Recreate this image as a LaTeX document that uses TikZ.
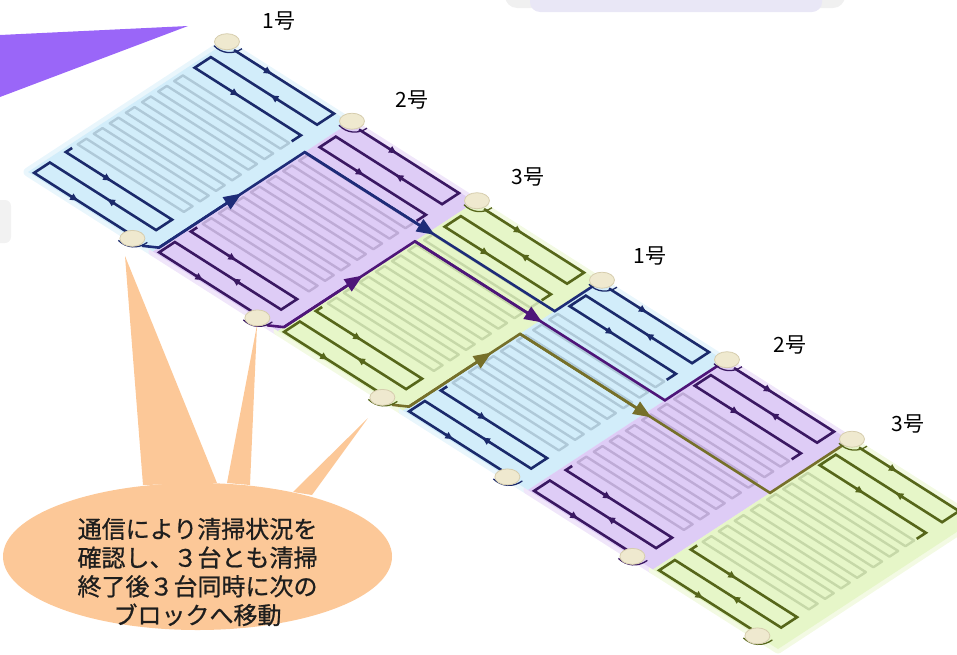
\documentclass[tikz,border=0pt]{standalone}
\usepackage{fontspec}
\newfontfamily\jpfont{Noto Sans CJK JP}
\newfontfamily\jpfontheavy{Noto Sans CJK JP}[FakeBold=0.8]
\usetikzlibrary{calc,arrows.meta,shapes.geometric}

% block fills, soft borders, stripes and paths for the three robots
\definecolor{fiB}{HTML}{D2EDFA}
\definecolor{fiP}{HTML}{DECCF6}
\definecolor{fiG}{HTML}{E6F6C8}
\definecolor{hlB}{HTML}{E9F6FC}
\definecolor{hlP}{HTML}{F0E6FA}
\definecolor{hlG}{HTML}{F3FAE3}
\definecolor{stB}{HTML}{AFC9D8}
\definecolor{stP}{HTML}{BEABD6}
\definecolor{stG}{HTML}{C6D8A8}
\definecolor{dkB}{HTML}{1B2A6B}
\definecolor{dkP}{HTML}{3A1862}
\definecolor{dkG}{HTML}{56661A}
\definecolor{rtB}{HTML}{1E2C78}
\definecolor{rtP}{HTML}{4E1679}
\definecolor{rtG}{HTML}{76702A}
\definecolor{robotfill}{HTML}{EFE9CF}
\definecolor{robotedge}{HTML}{D6CDAE}
\definecolor{callout}{HTML}{FCC898}
\definecolor{pointer}{HTML}{9A66F8}
\definecolor{lavender}{HTML}{E9E7F6}
\definecolor{ink}{HTML}{1E1E1E}

\tikzset{
  loopline/.style={line width=2.6pt, line join=miter},
  looptip/.style={line width=2.6pt, -{Latex[length=9pt,width=8pt]}},
  stripe/.style={line width=2.4pt, line join=round},
  routeline/.style={line width=2.6pt, line join=miter},
  routetip/.style={line width=2.6pt, -{Triangle[length=18pt,width=14pt]}},
  robot/.style={ellipse, minimum width=25pt, minimum height=16pt, fill=robotfill,
                draw=robotedge, line width=0.8pt, inner sep=0pt},
  num/.style={font=\jpfont\fontsize{21}{21}\selectfont, text=black},
}

\begin{document}
\begin{tikzpicture}[x=1pt,y=-1pt]
\useasboundingbox (0,0) rectangle (957,654);

% shapes cut by the page edges
\fill[black!6, rounded corners=12pt] (505,-30) rectangle (845,8);
\fill[lavender, rounded corners=10pt] (530,-30) rectangle (822,12);
\fill[black!5, rounded corners=6pt] (-20,200) rectangle (11,243);
\fill[pointer] (0,35) -- (188,26) -- (0,97) -- cycle;

% panel field: u along the rows (block length), v across the rows (block width)
\begin{scope}[shift={(28,172)}, x={(125pt,-79.5pt)}, y={(197pt,129pt)}]
  \foreach \k/\c in {0/B,1/P,2/G,3/B,4/P,5/G}
    \draw[line width=9pt, line join=round, color=hl\c, fill=hl\c]
      (\k,0) -- (\k+1,0) -- (\k+1,1) -- (\k,1) -- cycle;
  \foreach \k/\c in {0/B,1/P,2/G,3/B,4/P,5/G}
    \fill[fill=fi\c] (\k,0) -- (\k+1,0) -- (\k+1,1) -- (\k,1) -- cycle;

  \foreach \k/\c in {0/B,1/P,2/G,3/B,4/P,5/G}{
    \pgfmathsetmacro\un{\k+0.03}
    \pgfmathsetmacro\uf{\k+0.88}
    % panel rows in the middle of the block
    \foreach \r in {0.745,0.664,0.582,0.5,0.418,0.337,0.255}
      \draw[stripe, color=st\c] (\un,\r-0.022) -- (\uf,\r-0.022) -- (\uf,\r+0.022) -- (\un,\r+0.022) -- cycle;
    % cleaning path, upper and lower rows
    \draw[loopline, color=dk\c] (\k+0.08,0.995) -- (\uf,0.995) -- (\uf,0.909) -- (\un,0.909)
      -- (\un,0.827) -- (\uf,0.827) -- (\uf,0.78);
    \draw[loopline, color=dk\c] (\un,0.205) -- (\un,0.173) -- (\uf,0.173) -- (\uf,0.092)
      -- (\un,0.092) -- (\un,0.012) -- (\k+0.8,0.012);
    \draw[looptip, color=dk\c] (\k+0.32,0.995) -- (\k+0.39,0.995);
    \draw[looptip, color=dk\c] (\k+0.57,0.909) -- (\k+0.50,0.909);
    \draw[looptip, color=dk\c] (\k+0.32,0.827) -- (\k+0.39,0.827);
    \draw[looptip, color=dk\c] (\k+0.33,0.173) -- (\k+0.40,0.173);
    \draw[looptip, color=dk\c] (\k+0.55,0.092) -- (\k+0.48,0.092);
    \draw[looptip, color=dk\c] (\k+0.32,0.012) -- (\k+0.39,0.012);
  }

  % robot positions
  \foreach \k [evaluate=\k as \n using int(\k+1)] in {0,...,5}{
    \coordinate (pt\n) at (\k,1.01);
    \coordinate (pb\n) at (\k+0.835,0.0);
  }

  % transfer routes: blue, purple, green
  \coordinate (sB) at (0.92,-0.005);  \coordinate (aB) at (1,0.03);
  \coordinate (bB) at (1,0.77);       \coordinate (cB) at (3,0.77);
  \coordinate (dB) at (3,0.99);       \coordinate (uB) at (1,0.45);
  \coordinate (eB) at (2.04,0.77);
  \coordinate (sP) at (1.92,-0.005);  \coordinate (aP) at (2,0.03);
  \coordinate (bP) at (2,0.695);      \coordinate (cP) at (4,0.695);
  \coordinate (dP) at (4,0.99);       \coordinate (uP) at (2,0.43);
  \coordinate (eP) at (3.02,0.695);
  \coordinate (sG) at (2.92,-0.005);  \coordinate (aG) at (3,0.03);
  \coordinate (bG) at (3,0.594);      \coordinate (cG) at (5,0.594);
  \coordinate (dG) at (5,0.99);       \coordinate (uG) at (3,0.45);
  \coordinate (eG) at (4.05,0.594);
\end{scope}

\foreach \c in {B,P,G}{
  \draw[routeline, color=rt\c] (s\c) -- (a\c) -- (b\c) -- (c\c) -- (d\c);
  \draw[routetip, color=rt\c] (a\c) -- (u\c);
  \draw[routetip, color=rt\c] (b\c) -- (e\c);
}

% robots
\foreach \n/\c in {1/B,2/P,3/G,4/B,5/P,6/G}{
  \draw[color=dk\c, line width=1.3pt] ($(pt\n)+(-13,4)$) to[bend right=40] ($(pt\n)+(15,7)$);
  \node[robot] (rt\n) at (pt\n) {};
  \draw[color=dk\c, line width=1.3pt] ($(pb\n)+(-14,2)$) to[bend right=40] ($(pb\n)+(15,4)$);
  \node[robot] (rb\n) at (pb\n) {};
}

% robot numbers
\node[num] (lab1) at (279,21)  {1号};
\node[num] (lab2) at (412,100) {2号};
\node[num] (lab3) at (528,177) {3号};
\node[num] (lab4) at (650,256) {1号};
\node[num] (lab5) at (790,345) {2号};
\node[num] (lab6) at (908,424) {3号};

% speech bubble
\fill[callout] (143,485) -- (125,256) -- (217,483) -- cycle;
\fill[callout] (227,483) -- (257,325) -- (250,485) -- cycle;
\fill[callout] (293,492) -- (368,418) -- (312,495) -- cycle;
\fill[callout] (197.5,556.5) ellipse [x radius=194.5, y radius=73.5];
\node[font=\jpfontheavy\fontsize{24}{28.7}\selectfont, align=center, text=ink] (msg) at (197.5,572)
  {通信により清掃状況を\\確認し、３台とも清掃\\終了後３台同時に次の\\ブロックへ移動};
\end{tikzpicture}
\end{document}
